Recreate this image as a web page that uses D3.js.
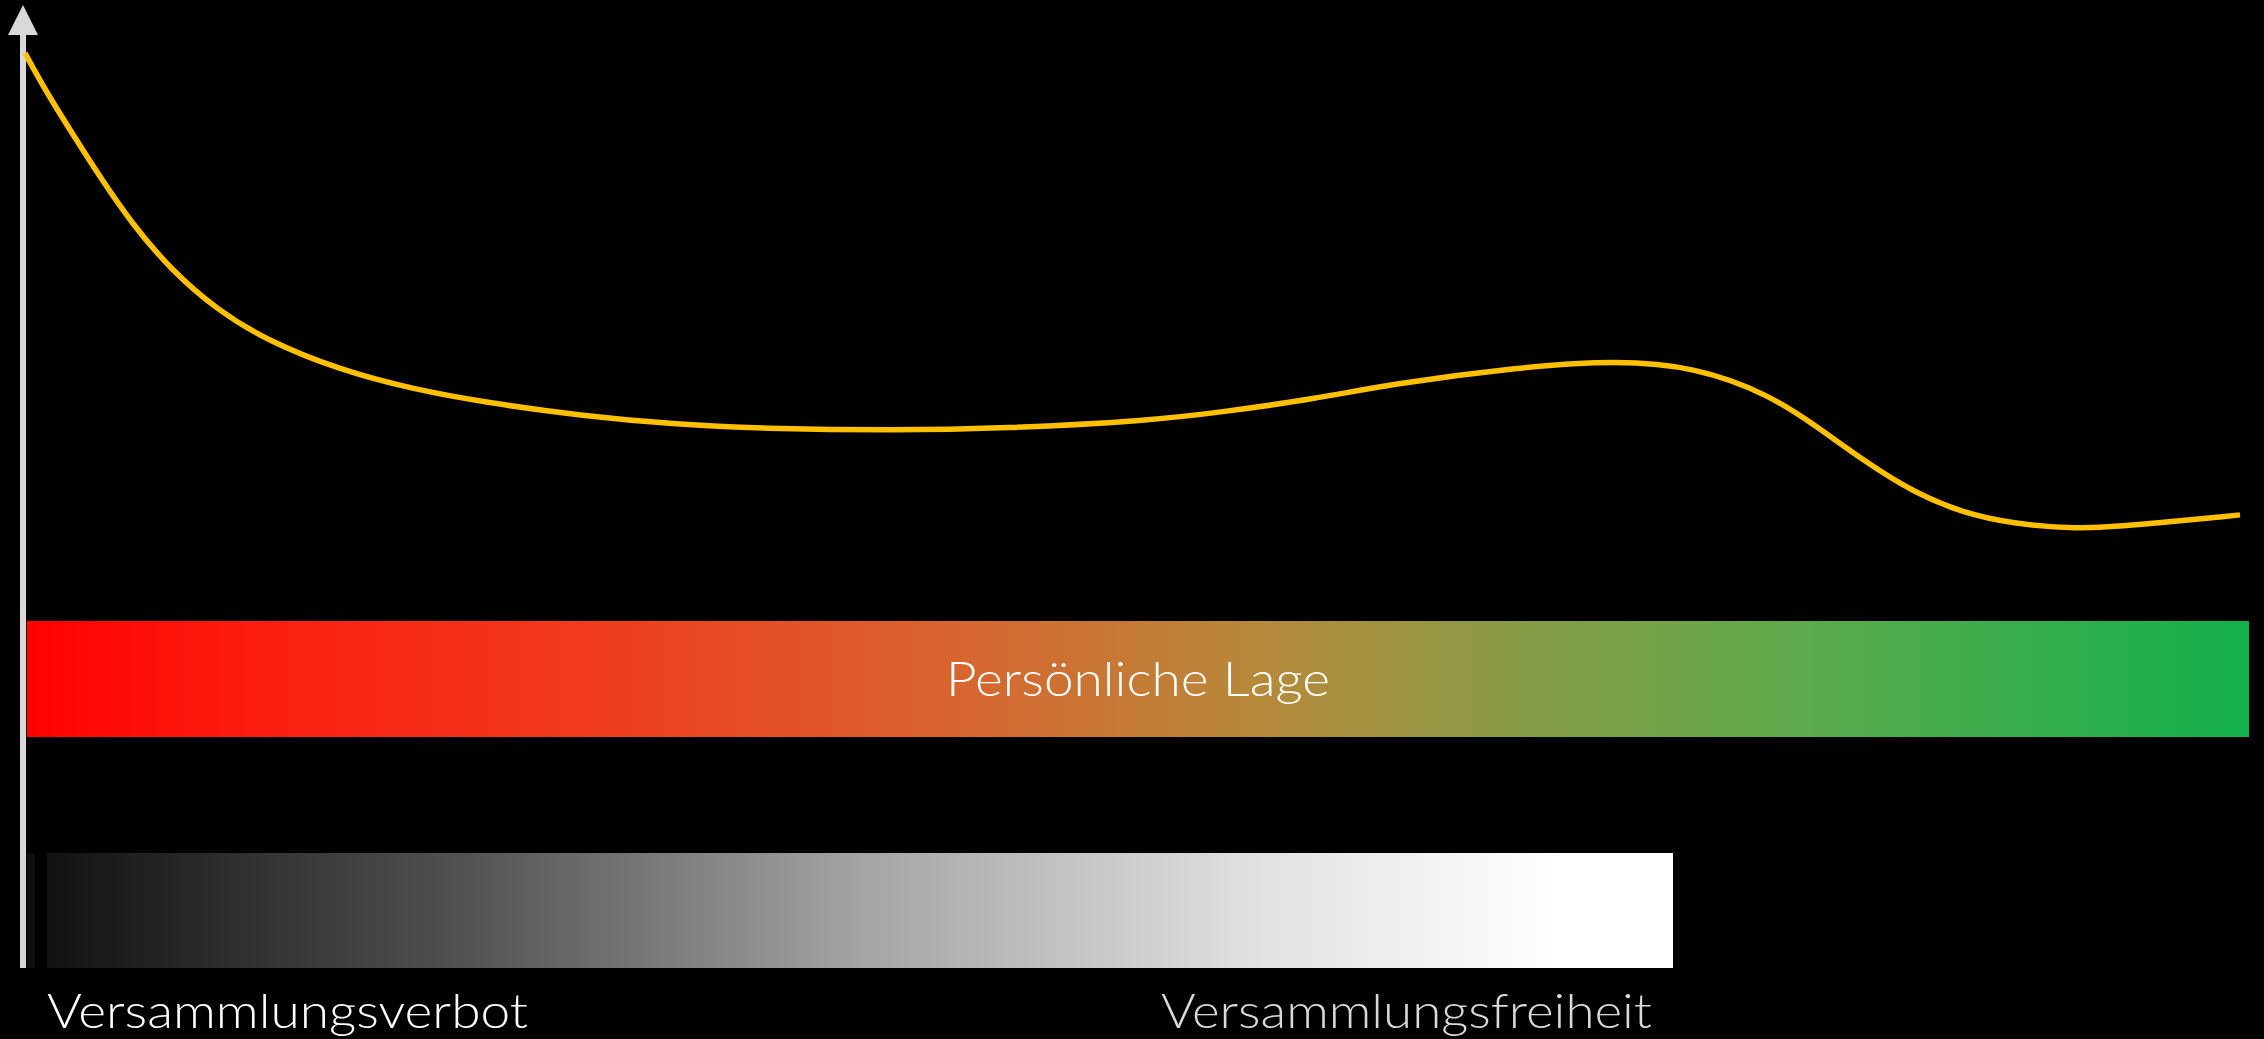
<!DOCTYPE html>
<html>
<head>
<meta charset="utf-8">
<script src="https://cdn.jsdelivr.net/npm/d3@7"></script>
<style>
  body { margin: 0; background: #000; }
  svg { display: block; }
  text { font-family: Lato, "Open Sans", sans-serif; font-weight: 300; }
</style>
</head>
<body>
<svg></svg>
<script>
// Versammlungsfreiheit (0 = Verbot, 100 = Freiheit) vs. persönliche Lage
const freedom = [0, 1, 2.2, 3.3, 4.8, 6.6, 8.7, 10.9, 14.2, 17.5, 20.8, 25.2, 29.5, 33.2, 39.3, 44.1, 50.7, 54, 58.3, 61.6, 67.5, 71.9, 75.4, 78.7, 80.9, 83.1, 85.3, 87.5, 89.7, 92.6, 95.2, 100];
const situation = [95.3, 91.1, 86.7, 82.7, 77.6, 72.7, 68.5, 65.4, 62.3, 60.3, 58.9, 57.5, 56.6, 56.2, 56.0, 56.2, 57.0, 57.9, 59.3, 60.8, 62.6, 63.3, 62.6, 59.8, 56.4, 52.7, 49.5, 47.4, 46.3, 45.7, 46.1, 47.2];

const barLabel = "Persönliche Lage";
const leftLabel = "Versammlungsverbot";
const rightLabel = "Versammlungsfreiheit";

const redStops = [
  [0, "#ff0000"], [0.1, "#fc1c10"], [0.25, "#f03a1e"], [0.42, "#d8652f"],
  [0.55, "#b8883a"], [0.65, "#909945"], [0.8, "#5caa4c"], [1, "#12b04c"]
];
const grayStops = [
  [0, "#121212"], [0.25, "#505050"], [0.5, "#a4a4a4"], [0.75, "#e2e2e2"], [0.93, "#ffffff"], [1, "#ffffff"]
];

const svg = d3.select("svg").attr("width", 2264).attr("height", 1039);

const x = d3.scaleLinear().domain([0, 100]).range([25, 2240]);
const y = d3.scaleLinear().domain([0, 100]).range([968, 8]);

const defs = svg.append("defs");
const addGrad = (id, stops) => {
  const g = defs.append("linearGradient").attr("id", id)
    .attr("x1", "0%").attr("x2", "100%").attr("y1", "0%").attr("y2", "0%");
  g.selectAll("stop").data(stops).enter().append("stop")
    .attr("offset", d => d[0]).attr("stop-color", d => d[1]);
};
addGrad("red", redStops);
addGrad("gray", grayStops);

// red / green bar
svg.append("rect")
  .attr("x", 27).attr("y", 621).attr("width", 2249 - 27).attr("height", 116)
  .attr("fill", "url(#red)");

svg.append("text")
  .attr("x", (27 + 2249) / 2).attr("y", 696)
  .attr("text-anchor", "middle")
  .attr("font-size", 48).attr("fill", "#fff")
  .attr("textLength", 384).attr("lengthAdjust", "spacingAndGlyphs")
  .text(barLabel);

// grey bar
svg.append("rect")
  .attr("x", 27).attr("y", 853).attr("width", 8).attr("height", 115)
  .attr("fill", "#0f0f0f");
svg.append("rect")
  .attr("x", 47).attr("y", 853).attr("width", 1673 - 47).attr("height", 115)
  .attr("fill", "url(#gray)");

svg.append("text")
  .attr("x", 47).attr("y", 1028)
  .attr("font-size", 48).attr("fill", "#fff")
  .attr("textLength", 481).attr("lengthAdjust", "spacingAndGlyphs")
  .text(leftLabel);

svg.append("text")
  .attr("x", 1161).attr("y", 1028)
  .attr("font-size", 48).attr("fill", "#d9d9d9")
  .attr("textLength", 491).attr("lengthAdjust", "spacingAndGlyphs")
  .text(rightLabel);

// y axis with arrow
svg.append("line")
  .attr("x1", 23).attr("x2", 23).attr("y1", 30).attr("y2", 968)
  .attr("stroke", "#d9d9d9").attr("stroke-width", 6);
svg.append("path")
  .attr("d", "M23,5 L38,35 L8,35 Z")
  .attr("fill", "#d9d9d9");

// curve
const line = d3.line()
  .x((d, i) => x(freedom[i]))
  .y(d => y(d))
  .curve(d3.curveBasis);

svg.append("path")
  .datum(situation)
  .attr("d", line)
  .attr("fill", "none")
  .attr("stroke", "#ffc000")
  .attr("stroke-width", 5.5);
</script>
</body>
</html>
